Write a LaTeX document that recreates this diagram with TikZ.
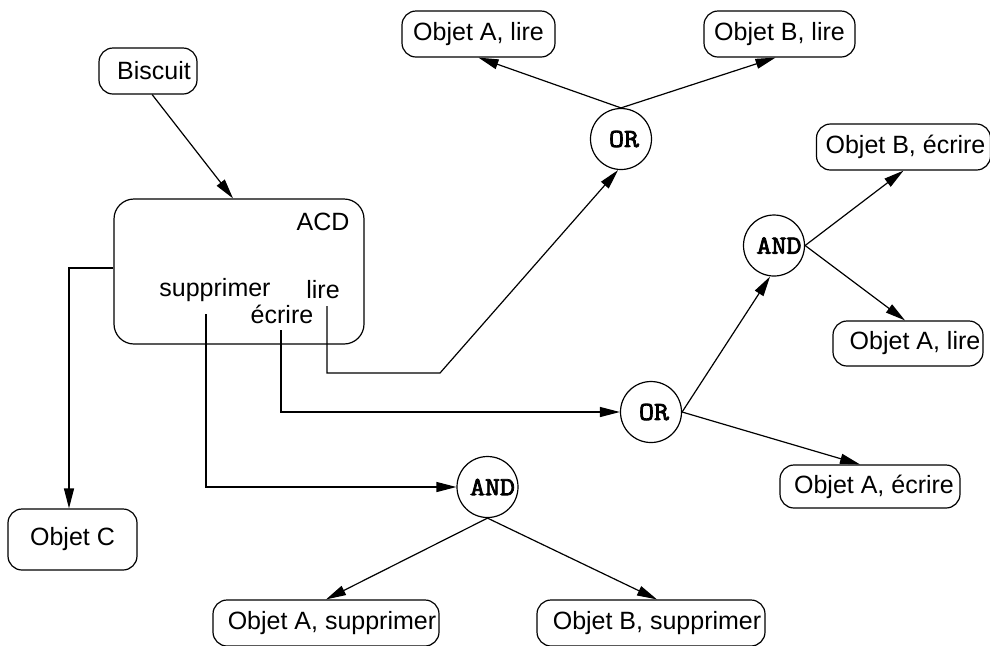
\documentclass[tikz,border=0pt]{standalone}
\usepackage{fontspec}
\setmainfont{Liberation Sans}
\newfontfamily\gatefont{Latin Modern Mono}[FakeBold=3,FakeStretch=1.12]
\usetikzlibrary{arrows.meta,calc}

\begin{document}
\begin{tikzpicture}[x=0.5pt,y=-0.5pt,
  every node/.style={font=\fontsize{12.5}{14}\selectfont},
  objbox/.style 2 args={draw, rounded corners=7pt, inner sep=0pt, line width=0.6pt,
    minimum width={#1*0.5pt}, minimum height={#2*0.5pt}},
  aclbox/.style 2 args={draw, rounded corners=10pt, inner sep=0pt, line width=0.6pt,
    minimum width={#1*0.5pt}, minimum height={#2*0.5pt}},
  gate/.style={draw, circle, inner sep=0pt, minimum size=30.5pt, line width=0.6pt,
    font=\fontsize{13}{14}\selectfont\gatefont},
  link/.style={line width=0.6pt, -{Triangle[length=10pt,width=5pt]}},
  wire/.style={line width=0.6pt}
]
\useasboundingbox (0,0) rectangle (990,645);

% subject and access control list
\node[objbox={98}{46}] (bisc) at (148,71) {\hspace*{6pt}Biscuit};
\node[aclbox={250}{145}] (acd) at (239,271.5) {};
\node (tacd) at (323,222) {ACD};
\node (tsup) at (215,290) {supprimer};
\node (tlir) at (323,290) {lire};
\node (tecr) at (282,314) {écrire};

% objects
\node[objbox={129}{61}] (objc) at (72.5,539.5) {Objet C};
\node[objbox={153}{46}] (oAl1) at (478.5,34) {Objet A, lire};
\node[objbox={151}{46}] (oBl1) at (779.5,34) {Objet B, lire};
\node[objbox={174}{46}] (oBe) at (903.5,147) {\hspace*{2pt}Objet B, écrire};
\node[objbox={150}{45}] (oAl2) at (908,343.5) {\hspace*{7pt}Objet A, lire};
\node[objbox={180}{43}] (oAe) at (870,486.5) {\hspace*{4pt}Objet A, écrire};
\node[objbox={226}{46}] (oAs) at (326,623) {\hspace*{6pt}Objet A, supprimer};
\node[objbox={228}{46}] (oBs) at (651,623) {\hspace*{6pt}Objet B, supprimer};

% logical gates
\node[gate] (or1) at (621,139) {\makebox[0pt]{\hspace*{3pt}OR}};
\node[gate] (and2) at (774,245.5) {\makebox[0pt]{\hspace*{5pt}AND}};
\node[gate] (or2) at (651,412) {\makebox[0pt]{\hspace*{3pt}OR}};
\node[gate] (and1) at (487.5,487) {\makebox[0pt]{\hspace*{5pt}AND}};

% wire starts under the rights and the bend of the "lire" wire
\coordinate (sup0) at (206,314);
\coordinate (ecr0) at (281,330);
\coordinate (lir0) at (327,306);
\coordinate (lirbend) at (440,373);

% connectors
\draw[link] (bisc.-80) -- ($(acd.north)+(-6,0)$);
\draw[link] ($(acd.west)+(0,-3.5)$) -| ($(objc.north)+(-3.5,0)$);
\draw[link] (sup0) |- (and1.west);
\draw[link] (ecr0) |- (or2.west);
\draw[link] (lir0) |- (lirbend) -- ($(or1.south)+(-3,0)$);

\draw[link] (or1.north) -- (oAl1.south);
\draw[link] (or1.north) -- ($(oBl1.south)+(-4,0)$);

\draw[link] (or2.east) -- ($(and2.south)+(-4,0)$);
\draw[link] (or2.east) -- ($(oAe.north)+(-10,0)$);

\draw[link] (and2.east) -- (oBe.south);
\draw[link] (and2.east) -- ($(oAl2.north)+(-3,0)$);

\draw[link] (and1.south) -- (oAs.north);
\draw[link] (and1.south) -- ($(oBs.north)+(6,0)$);
\end{tikzpicture}
\end{document}
